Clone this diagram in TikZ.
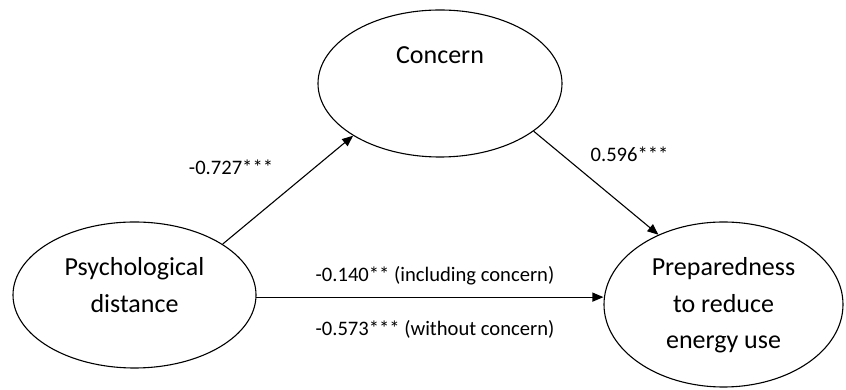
\documentclass[tikz,border=0pt]{standalone}
\usepackage{fontspec}
\setmainfont{Carlito}
\usetikzlibrary{shapes.geometric,arrows.meta}

\begin{document}
\begin{tikzpicture}[x=1pt, y=1pt,
    latent/.style={draw, ellipse, line width=1.1pt, inner sep=0pt},
    latentname/.style={align=center, font=\fontsize{26}{36.5}\selectfont},
    effect/.style={line width=1.1pt, -{Triangle[length=11pt, width=9pt]}},
    coef/.style={font=\fontsize{20.6}{24}\selectfont}]
    \useasboundingbox (0,0) rectangle (846,390);

    % Latent constructs
    \node[latent, minimum width=244pt, minimum height=147pt,
        label={[latentname, name=concerntext, yshift=28.5pt]center:Concern}] (concern) at (440, 306.5) {};
    \node[latent, minimum width=243pt, minimum height=146pt,
        label={[latentname, name=psychtext, yshift=10pt]center:Psychological\\distance}] (psych) at (134.5, 95) {};
    \node[latent, minimum width=239pt, minimum height=165pt,
        label={[latentname, name=preptext, yshift=-1pt]center:Preparedness\\to reduce\\energy use}] (prep) at (723.5, 85.5) {};

    % Paths
    \draw[effect] (psych.30) -- (concern.211);
    \draw[effect] (concern.-27) -- (prep.133);
    \draw[effect] (psych.-1) -- (psych.-1 -| prep.west);

    % Coefficients
    \node[coef] (apath) at (231, 223) {-0.727***};
    \node[coef] (bpath) at (629.5, 236) {0.596***};
    \node[coef] (cpath) at (435, 114) {-0.140** (including concern)};
    \node[coef] (ctotal) at (435, 61) {-0.573*** (without concern)};
\end{tikzpicture}
\end{document}
